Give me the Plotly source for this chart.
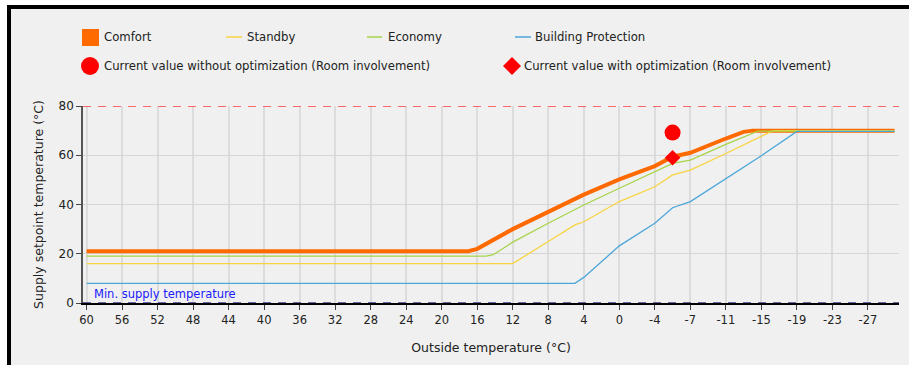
import plotly.graph_objects as go

# Outside-temperature axis positions (nominal) and tick labels
tick_pos = [60, 56, 52, 48, 44, 40, 36, 32, 28, 24, 20, 16, 12, 8, 4, 0, -4, -8, -12, -16, -20, -24, -28]
tick_text = ["60", "56", "52", "48", "44", "40", "36", "32", "28", "24", "20", "16", "12", "8", "4", "0",
             "-4", "-7", "-11", "-15", "-19", "-23", "-27"]

comfort_x = [60, 17, 16, 14, 12, 8, 5, 4, 0, -4, -6, -7, -8, -12, -14, -15, -31]
comfort_y = [21, 21, 22, 26, 30, 37, 42.5, 44, 50.2, 55.6, 59.4, 60, 61, 66.8, 69.5, 70, 70]

standby_x = [60, 12, 8, 5, 4, 0, -4, -6, -8, -12, -17.3, -31]
standby_y = [16, 16, 25, 31.7, 33, 41.2, 47.2, 52, 54, 60.7, 70, 70]

economy_x = [60, 15, 14.2, 12, 8, 4, 0, -4, -6, -8, -12, -15.6, -31]
economy_y = [19, 19, 19.6, 24.7, 32.4, 39.8, 46.6, 53.3, 56.7, 58, 64.4, 69.8, 69.8]

protect_x = [60, 5, 4, 2, 0, -4, -6, -8, -12, -16, -20, -31]
protect_y = [8, 8, 10.4, 16.9, 23.2, 32.4, 38.7, 41.2, 50.6, 59.8, 69.7, 69.7]

without_opt_x = [-6]
without_opt_y = [69.2]
with_opt_x = [-6]
with_opt_y = [59.0]

max_temp = 80
min_temp = 0

C_COMFORT = "#ff6a00"
C_STANDBY = "#f7d440"
C_ECONOMY = "#a8d34a"
C_PROTECT = "#4ba6d9"
FONT = "DejaVu Sans"
FS = 11.7

fig = go.Figure()
fig.add_trace(go.Scatter(x=comfort_x, y=comfort_y, mode="lines", name="Comfort",
                         line=dict(color=C_COMFORT, width=4), showlegend=False))
fig.add_trace(go.Scatter(x=standby_x, y=standby_y, mode="lines", name="Standby",
                         line=dict(color=C_STANDBY, width=1.3), showlegend=False))
fig.add_trace(go.Scatter(x=economy_x, y=economy_y, mode="lines", name="Economy",
                         line=dict(color=C_ECONOMY, width=1.3), showlegend=False))
fig.add_trace(go.Scatter(x=protect_x, y=protect_y, mode="lines", name="Building Protection",
                         line=dict(color=C_PROTECT, width=1.3), showlegend=False))
fig.add_trace(go.Scatter(x=without_opt_x, y=without_opt_y, mode="markers",
                         name="Current value without optimization (Room involvement)",
                         marker=dict(color="#ff0000", size=16, symbol="circle"), showlegend=False))
fig.add_trace(go.Scatter(x=with_opt_x, y=with_opt_y, mode="markers",
                         name="Current value with optimization (Room involvement)",
                         marker=dict(color="#ff0000", size=12, symbol="diamond"), showlegend=False))

# Plot area in pixels: x 83..899, y 106..303
L, R, T, B = 83, 899, 106, 303
W, H = R - L, B - T
def px(x):
    return (x - L) / W
def py(y):
    return (B - y) / H

shapes = []
# outer frame
shapes.append(dict(type="rect", xref="paper", yref="paper", x0=px(9), x1=px(915), y0=py(372), y1=py(7),
                   fillcolor="#f0f0f0", line=dict(color="#000000", width=4), layer="below"))
# max line and min line
shapes.append(dict(type="line", xref="paper", yref="y", x0=0, x1=1, y0=max_temp, y1=max_temp,
                   line=dict(color="#ff3b3b", width=1.3, dash="8px,7px")))
shapes.append(dict(type="line", xref="paper", yref="y", x0=0, x1=1, y0=min_temp, y1=min_temp,
                   line=dict(color="#3a3a8a", width=1.5, dash="8px,7px")))

annotations = []
# legend row 1
shapes.append(dict(type="rect", xref="paper", yref="paper", x0=px(82), x1=px(99), y0=py(46), y1=py(29),
                   fillcolor=C_COMFORT, line=dict(width=0)))
annotations.append(dict(xref="paper", yref="paper", x=px(102), y=py(37), text="Comfort", showarrow=False,
                        xanchor="left", yanchor="middle", font=dict(size=FS, color="#222", family=FONT)))
for x0, x1, tx, col, label in [(226, 242, 245, C_STANDBY, "Standby"),
                                (367, 382, 386, C_ECONOMY, "Economy"),
                                (515, 531, 533, C_PROTECT, "Building Protection")]:
    shapes.append(dict(type="line", xref="paper", yref="paper", x0=px(x0), x1=px(x1), y0=py(37), y1=py(37),
                       line=dict(color=col, width=1.5)))
    annotations.append(dict(xref="paper", yref="paper", x=px(tx), y=py(37), text=label, showarrow=False,
                            xanchor="left", yanchor="middle", font=dict(size=FS, color="#222", family=FONT)))
# legend row 2
shapes.append(dict(type="circle", xref="paper", yref="paper", x0=px(81), x1=px(99), y0=py(75), y1=py(57),
                   fillcolor="#ff0000", line=dict(width=0)))
annotations.append(dict(xref="paper", yref="paper", x=px(102), y=py(66),
                        text="Current value without optimization (Room involvement)", showarrow=False,
                        xanchor="left", yanchor="middle", font=dict(size=FS, color="#222", family=FONT)))
shapes.append(dict(type="path", xref="paper", yref="paper",
                   path=f"M {px(503)} {py(66)} L {px(512)} {py(57)} L {px(521)} {py(66)} L {px(512)} {py(75)} Z",
                   fillcolor="#ff0000", line=dict(width=0)))
annotations.append(dict(xref="paper", yref="paper", x=px(522), y=py(66),
                        text="Current value with optimization (Room involvement)", showarrow=False,
                        xanchor="left", yanchor="middle", font=dict(size=FS, color="#222", family=FONT)))
# min supply label
annotations.append(dict(x=59.4, y=0, xref="x", yref="y", text="Min. supply temperature", showarrow=False,
                        xanchor="left", yanchor="bottom", yshift=0,
                        font=dict(size=11.5, color="#1a1aff", family=FONT)))

fig.update_layout(
    width=909, height=365,
    margin=dict(l=L, r=909 - R, t=T, b=365 - B),
    paper_bgcolor="#ffffff", plot_bgcolor="rgba(0,0,0,0)",
    font=dict(family=FONT, size=11, color="#222"),
    shapes=shapes, annotations=annotations,
    xaxis=dict(range=[60.4, -31.5], tickmode="array", tickvals=tick_pos, ticktext=tick_text,
               showgrid=True, gridcolor="#dcdcdc", gridwidth=1.5, zeroline=False,
               showline=True, linecolor="#000", linewidth=1.5,
               ticks="outside", ticklen=5, tickcolor="#444",
               tickfont=dict(size=11.5, family=FONT, color="#222"),
               title=dict(text="Outside temperature (°C)", font=dict(size=12.5, family=FONT, color="#222"),
                          standoff=18)),
    yaxis=dict(range=[0, 80], tickvals=[0, 20, 40, 60, 80],
               showgrid=True, gridcolor="#d6d6d6", gridwidth=1, zeroline=False,
               showline=True, linecolor="#555", linewidth=1.5,
               ticks="outside", ticklen=5, tickcolor="#444",
               tickfont=dict(size=12, family=FONT, color="#222"),
               title=dict(text="Supply setpoint temperature (°C)", font=dict(size=12.5, family=FONT, color="#222"),
                          standoff=12)),
)

fig.write_html("out.html", post_script="document.body.style.margin='0';",
               config={"displayModeBar": False})
